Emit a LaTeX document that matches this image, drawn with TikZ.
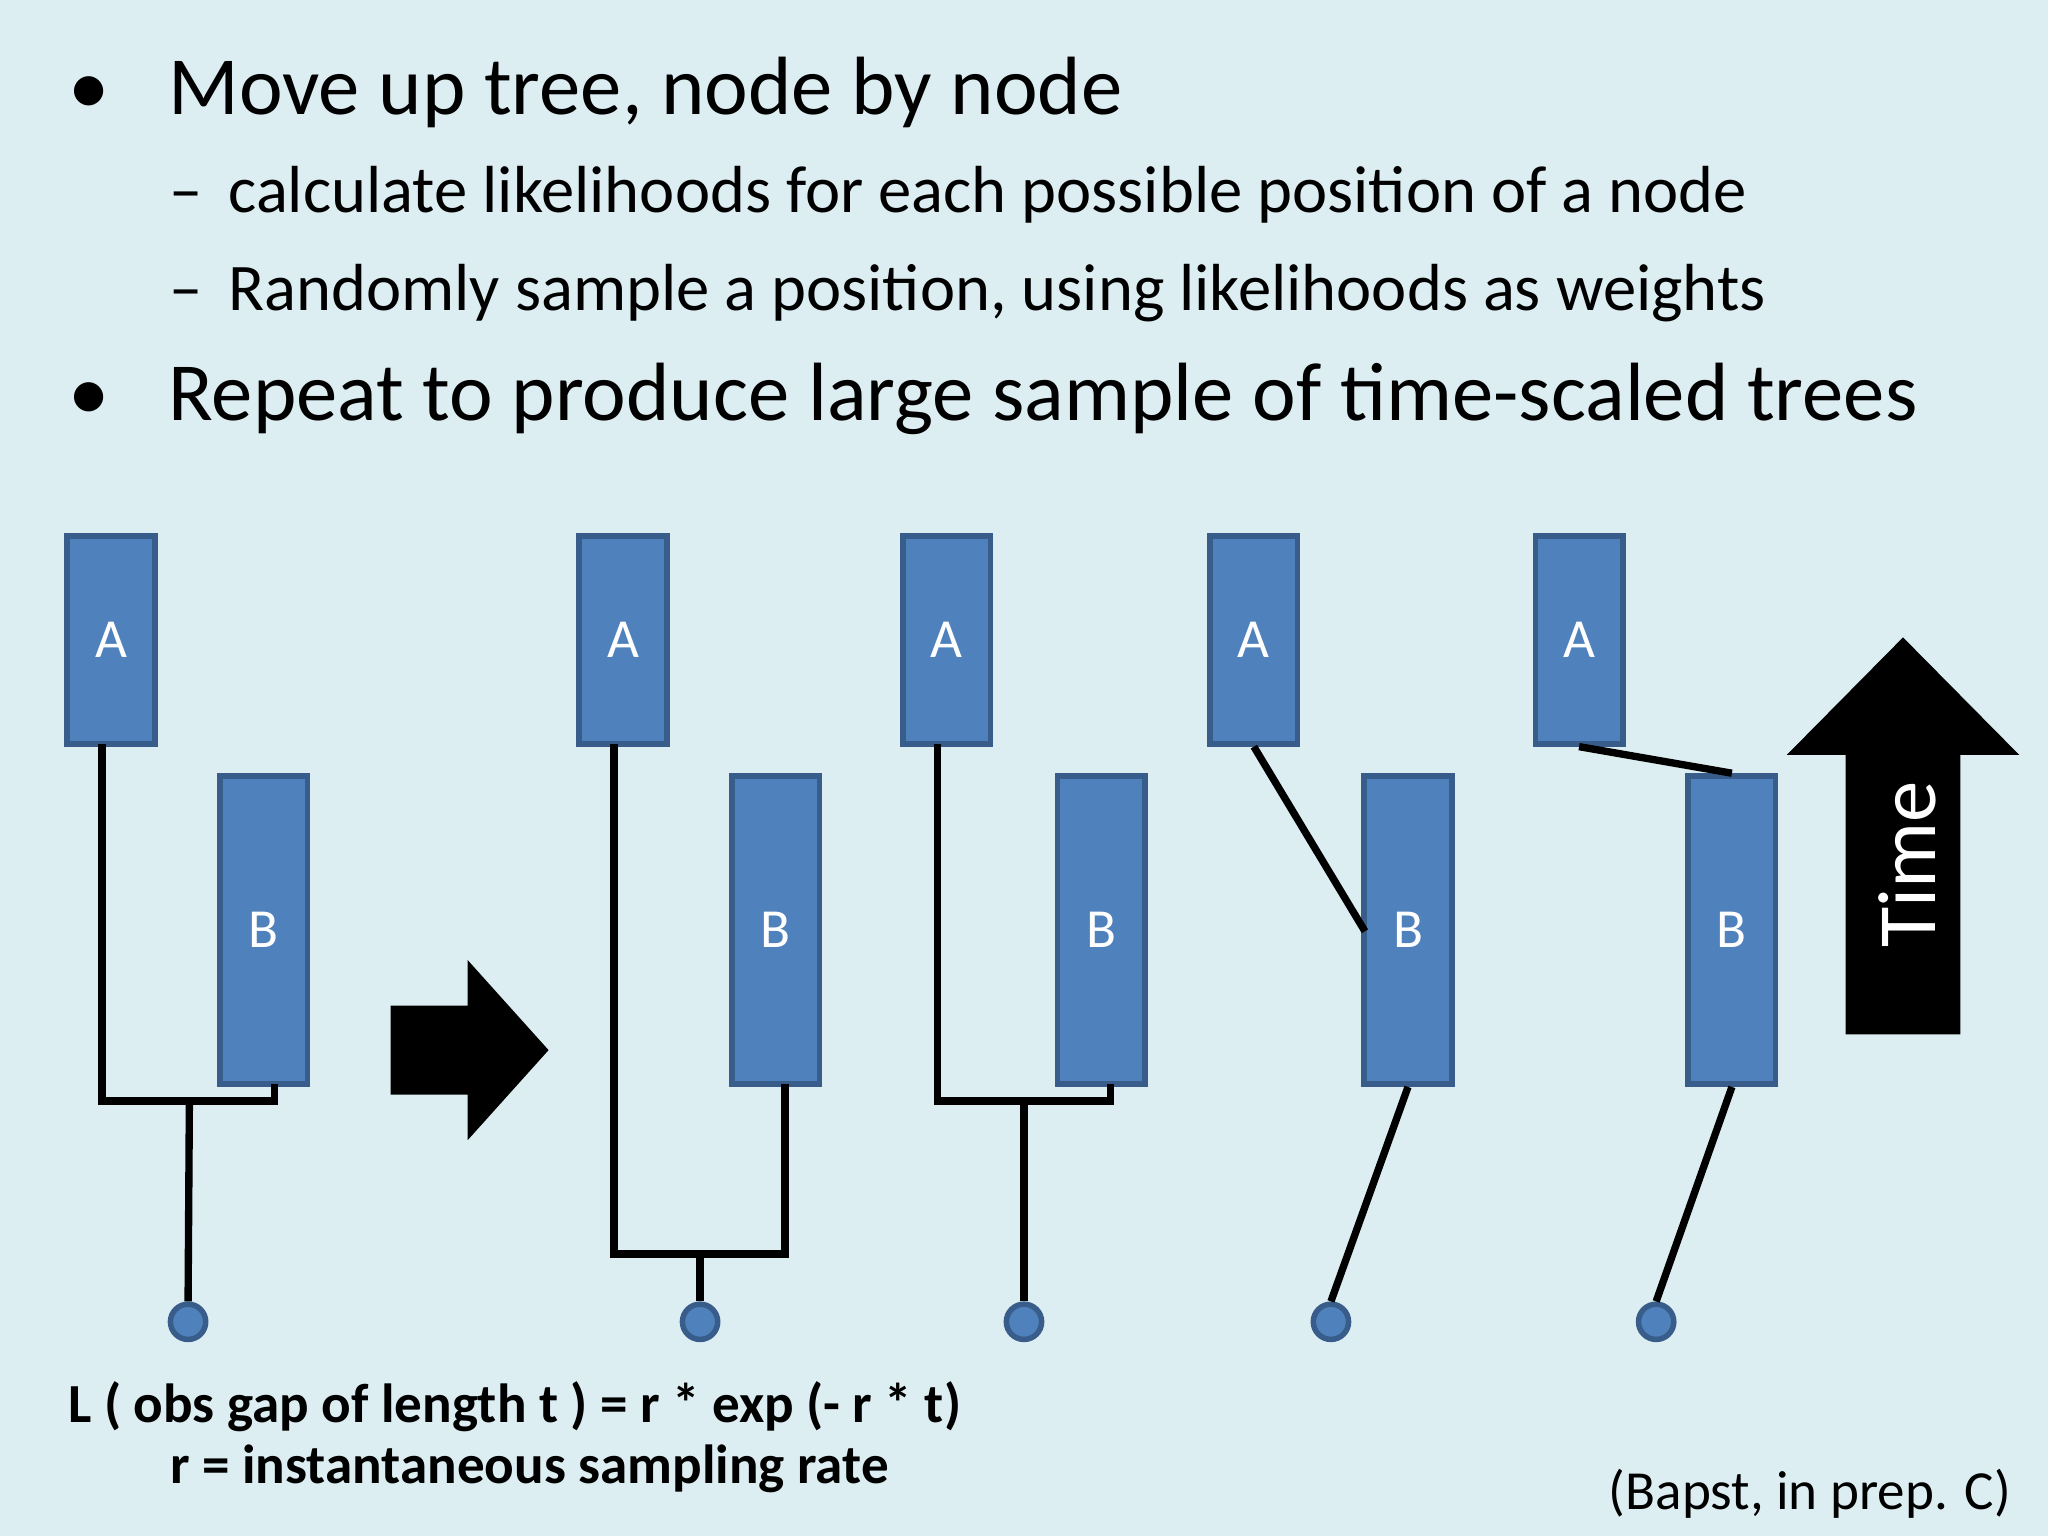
\documentclass[tikz,border=0pt]{standalone}
\usepackage{fontspec}
\setmainfont{Carlito}
\begin{document}
\begin{tikzpicture}[x=0.01cm,y=-0.01cm,
 box/.style={draw=boxb,fill=boxf,line width=1.2pt,minimum width=0.67cm,text=white,font=\fontsize{12}{14}\selectfont,inner sep=0pt},
 ln/.style={line width=1.6pt,black},
 dot/.style={circle,draw=boxb,fill=boxf,line width=1.2pt,minimum size=0.27cm,inner sep=0pt}]
\definecolor{bg}{HTML}{DDEEF3}\definecolor{boxf}{HTML}{4F81BD}\definecolor{boxb}{HTML}{385D8A}
\fill[bg] (0,0) rectangle (1568,1176);
\useasboundingbox (0,0) rectangle (1568,1176);
\node[anchor=base west,font=\fontsize{18}{20}\selectfont] (b1) at (40,88) {•\hspace{0.45cm}Move up tree, node by node};
\node[anchor=base west,font=\fontsize{14.5}{16}\selectfont] (s1) at (117,163) {–\hspace{0.2cm}calculate likelihoods for each possible position of a node};
\node[anchor=base west,font=\fontsize{14.5}{16}\selectfont] (s2) at (117,238) {–\hspace{0.2cm}Randomly sample a position, using likelihoods as weights};
\node[anchor=base west,font=\fontsize{18}{20}\selectfont] (b2) at (40,322) {•\hspace{0.45cm}Repeat to produce large sample of time-scaled trees};
% boxes
\foreach \n/\ax/\bx in {1/85/202,2/477/594,3/725/843,4/960/1078,5/1209/1326}{
 \node[box,minimum height=1.59cm] (A\n) at (\ax,490) {A};
 \node[box,minimum height=2.36cm] (B\n) at (\bx,712) {B};
}
\foreach \n/\x in {1/144,2/536,3/784,4/1019,5/1268}{\node[dot] (d\n) at (\x,1012) {};}
% tree 1
\draw[ln] (78,570) -- (78,843) -- (210,843) -- (210,830);
\draw[ln] (145,843) -- (d1.north);
% tree 2
\draw[ln] (470,570) -- (470,960) -- (601,960) -- (601,830);
\draw[ln] (536,960) -- (d2.north);
% tree 3
\draw[ln] (718,570) -- (718,843) -- (850,843) -- (850,830);
\draw[ln] (784,843) -- (d3.north);
% tree 4,5
\draw[ln] (A4.south) -- (1045,713);
\draw[ln] (B4.south) -- (d4.north);
\draw[ln] (A5.south) -- (1326,592);
\draw[ln] (B5.south) -- (d5.north);
% arrows
\fill (299,770) -- (358,770) -- (358,735) -- (420,804) -- (358,873) -- (358,838) -- (299,838) -- cycle;
\fill (1413,792) -- (1413,578) -- (1368,578) -- (1457,488) -- (1546,578) -- (1501,578) -- (1501,792) -- cycle;
\node[rotate=90,text=white,font=\fontsize{18}{20}\selectfont] (time) at (1460,662) {Time};
\node[anchor=base west,font=\bfseries\fontsize{12}{14}\selectfont] (f1) at (40,1089) {L ( obs gap of length t ) = r * exp (- r * t)};
\node[anchor=base west,font=\bfseries\fontsize{12}{14}\selectfont] (f2) at (118,1136) {r = instantaneous sampling rate};
\node[anchor=base east,font=\fontsize{12}{14}\selectfont] (cite) at (1552,1156) {(Bapst, in prep. C)};
\end{tikzpicture}
\end{document}
